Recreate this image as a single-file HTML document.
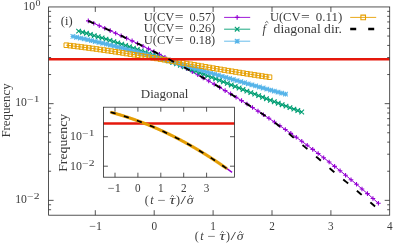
<!DOCTYPE html>
<html><head><meta charset="utf-8"><title>chart</title><style>html,body{margin:0;padding:0;background:#fff;overflow:hidden}body{width:393px;height:245px;position:relative;font-family:"Liberation Serif",serif}svg{display:block;position:absolute;left:0;top:0;will-change:transform}</style></head><body>
<svg width="393" height="245" viewBox="0 0 393 245" font-family="Liberation Serif, serif" font-size="12.0" fill="#3a3a3a">
<rect x="0" y="0" width="393" height="245" fill="#fff"/>
<polyline points="88.30,20.88 93.77,23.29 99.25,25.72 104.72,28.18 110.19,30.67 115.67,33.18 121.14,35.72 126.62,38.30 132.09,40.90 137.56,43.53 143.04,46.20 148.51,48.90 153.98,51.63 159.46,54.40 164.93,57.20 170.40,60.04 175.88,62.91 181.35,65.83 186.82,68.78 192.30,71.77 197.77,74.80 203.25,77.88 208.72,81.00 214.19,84.16 219.67,87.36 225.14,90.61 230.61,93.90 236.09,97.24 241.56,100.63 247.03,104.07 252.51,107.56 257.98,111.09 263.45,114.68 268.93,118.32 274.40,122.01 279.88,125.76 285.35,129.55 290.82,133.41 296.30,137.32 301.77,141.29 307.24,145.31 312.72,149.40 318.19,153.54 323.66,157.74 329.14,162.01 334.61,166.33 340.08,170.72 345.56,175.18 351.03,179.69 356.51,184.28 361.98,188.93 367.45,193.64 372.93,198.43 378.40,203.28" fill="none" stroke="#9400d3" stroke-width="1" />
<path d="M86.00,20.88H90.60M88.30,18.58V23.18M91.47,23.29H96.07M93.77,20.99V25.59M96.95,25.72H101.55M99.25,23.42V28.02M102.42,28.18H107.02M104.72,25.88V30.48M107.89,30.67H112.49M110.19,28.37V32.97M113.37,33.18H117.97M115.67,30.88V35.48M118.84,35.72H123.44M121.14,33.42V38.02M124.32,38.30H128.92M126.62,36.00V40.60M129.79,40.90H134.39M132.09,38.60V43.20M135.26,43.53H139.86M137.56,41.23V45.83M140.74,46.20H145.34M143.04,43.90V48.50M146.21,48.90H150.81M148.51,46.60V51.20M151.68,51.63H156.28M153.98,49.33V53.93M157.16,54.40H161.76M159.46,52.10V56.70M162.63,57.20H167.23M164.93,54.90V59.50M168.10,60.04H172.70M170.40,57.74V62.34M173.58,62.91H178.18M175.88,60.61V65.21M179.05,65.83H183.65M181.35,63.53V68.13M184.52,68.78H189.12M186.82,66.48V71.08M190.00,71.77H194.60M192.30,69.47V74.07M195.47,74.80H200.07M197.77,72.50V77.10M200.95,77.88H205.55M203.25,75.58V80.18M206.42,81.00H211.02M208.72,78.70V83.30M211.89,84.16H216.49M214.19,81.86V86.46M217.37,87.36H221.97M219.67,85.06V89.66M222.84,90.61H227.44M225.14,88.31V92.91M228.31,93.90H232.91M230.61,91.60V96.20M233.79,97.24H238.39M236.09,94.94V99.54M239.26,100.63H243.86M241.56,98.33V102.93M244.73,104.07H249.33M247.03,101.77V106.37M250.21,107.56H254.81M252.51,105.26V109.86M255.68,111.09H260.28M257.98,108.79V113.39M261.15,114.68H265.75M263.45,112.38V116.98M266.63,118.32H271.23M268.93,116.02V120.62M272.10,122.01H276.70M274.40,119.71V124.31M277.58,125.76H282.18M279.88,123.46V128.06M283.05,129.55H287.65M285.35,127.25V131.85M288.52,133.41H293.12M290.82,131.11V135.71M294.00,137.32H298.60M296.30,135.02V139.62M299.47,141.29H304.07M301.77,138.99V143.59M304.94,145.31H309.54M307.24,143.01V147.61M310.42,149.40H315.02M312.72,147.10V151.70M315.89,153.54H320.49M318.19,151.24V155.84M321.36,157.74H325.96M323.66,155.44V160.04M326.84,162.01H331.44M329.14,159.71V164.31M332.31,166.33H336.91M334.61,164.03V168.63M337.78,170.72H342.38M340.08,168.42V173.02M343.26,175.18H347.86M345.56,172.88V177.48M348.73,179.69H353.33M351.03,177.39V181.99M354.21,184.28H358.81M356.51,181.98V186.58M359.68,188.93H364.28M361.98,186.63V191.23M365.15,193.64H369.75M367.45,191.34V195.94M370.63,198.43H375.23M372.93,196.13V200.73M376.10,203.28H380.70M378.40,200.98V205.58" fill="none" stroke="#9400d3" stroke-width="1.1"/>
<polyline points="78.60,31.12 82.51,32.20 86.43,33.30 90.34,34.42 94.26,35.57 98.17,36.74 102.08,37.93 106.00,39.14 109.91,40.37 113.83,41.62 117.74,42.89 121.65,44.17 125.57,45.48 129.48,46.80 133.40,48.13 137.31,49.48 141.22,50.85 145.14,52.23 149.05,53.63 152.97,55.03 156.88,56.45 160.79,57.88 164.71,59.33 168.62,60.78 172.54,62.24 176.45,63.72 180.36,65.20 184.28,66.69 188.19,68.18 192.11,69.69 196.02,71.20 199.94,72.71 203.85,74.23 207.76,75.75 211.68,77.28 215.59,78.81 219.51,80.35 223.42,81.88 227.33,83.42 231.25,84.95 235.16,86.49 239.08,88.03 242.99,89.56 246.90,91.10 250.82,92.63 254.73,94.15 258.65,95.68 262.56,97.20 266.47,98.71 270.39,100.22 274.30,101.72 278.22,103.21 282.13,104.70 286.04,106.18 289.96,107.65 293.87,109.11 297.79,110.56 301.70,112.00" fill="none" stroke="#009e73" stroke-width="1" />
<path d="M76.30,28.82L80.90,33.42M76.30,33.42L80.90,28.82M80.21,29.90L84.81,34.50M80.21,34.50L84.81,29.90M84.13,31.00L88.73,35.60M84.13,35.60L88.73,31.00M88.04,32.12L92.64,36.72M88.04,36.72L92.64,32.12M91.96,33.27L96.56,37.87M91.96,37.87L96.56,33.27M95.87,34.44L100.47,39.04M95.87,39.04L100.47,34.44M99.78,35.63L104.38,40.23M99.78,40.23L104.38,35.63M103.70,36.84L108.30,41.44M103.70,41.44L108.30,36.84M107.61,38.07L112.21,42.67M107.61,42.67L112.21,38.07M111.53,39.32L116.13,43.92M111.53,43.92L116.13,39.32M115.44,40.59L120.04,45.19M115.44,45.19L120.04,40.59M119.35,41.87L123.95,46.47M119.35,46.47L123.95,41.87M123.27,43.18L127.87,47.78M123.27,47.78L127.87,43.18M127.18,44.50L131.78,49.10M127.18,49.10L131.78,44.50M131.10,45.83L135.70,50.43M131.10,50.43L135.70,45.83M135.01,47.18L139.61,51.78M135.01,51.78L139.61,47.18M138.92,48.55L143.52,53.15M138.92,53.15L143.52,48.55M142.84,49.93L147.44,54.53M142.84,54.53L147.44,49.93M146.75,51.33L151.35,55.93M146.75,55.93L151.35,51.33M150.67,52.73L155.27,57.33M150.67,57.33L155.27,52.73M154.58,54.15L159.18,58.75M154.58,58.75L159.18,54.15M158.49,55.58L163.09,60.18M158.49,60.18L163.09,55.58M162.41,57.03L167.01,61.63M162.41,61.63L167.01,57.03M166.32,58.48L170.92,63.08M166.32,63.08L170.92,58.48M170.24,59.94L174.84,64.54M170.24,64.54L174.84,59.94M174.15,61.42L178.75,66.02M174.15,66.02L178.75,61.42M178.06,62.90L182.66,67.50M178.06,67.50L182.66,62.90M181.98,64.39L186.58,68.99M181.98,68.99L186.58,64.39M185.89,65.88L190.49,70.48M185.89,70.48L190.49,65.88M189.81,67.39L194.41,71.99M189.81,71.99L194.41,67.39M193.72,68.90L198.32,73.50M193.72,73.50L198.32,68.90M197.64,70.41L202.24,75.01M197.64,75.01L202.24,70.41M201.55,71.93L206.15,76.53M201.55,76.53L206.15,71.93M205.46,73.45L210.06,78.05M205.46,78.05L210.06,73.45M209.38,74.98L213.98,79.58M209.38,79.58L213.98,74.98M213.29,76.51L217.89,81.11M213.29,81.11L217.89,76.51M217.21,78.05L221.81,82.65M217.21,82.65L221.81,78.05M221.12,79.58L225.72,84.18M221.12,84.18L225.72,79.58M225.03,81.12L229.63,85.72M225.03,85.72L229.63,81.12M228.95,82.65L233.55,87.25M228.95,87.25L233.55,82.65M232.86,84.19L237.46,88.79M232.86,88.79L237.46,84.19M236.78,85.73L241.38,90.33M236.78,90.33L241.38,85.73M240.69,87.26L245.29,91.86M240.69,91.86L245.29,87.26M244.60,88.80L249.20,93.40M244.60,93.40L249.20,88.80M248.52,90.33L253.12,94.93M248.52,94.93L253.12,90.33M252.43,91.85L257.03,96.45M252.43,96.45L257.03,91.85M256.35,93.38L260.95,97.98M256.35,97.98L260.95,93.38M260.26,94.90L264.86,99.50M260.26,99.50L264.86,94.90M264.17,96.41L268.77,101.01M264.17,101.01L268.77,96.41M268.09,97.92L272.69,102.52M268.09,102.52L272.69,97.92M272.00,99.42L276.60,104.02M272.00,104.02L276.60,99.42M275.92,100.91L280.52,105.51M275.92,105.51L280.52,100.91M279.83,102.40L284.43,107.00M279.83,107.00L284.43,102.40M283.74,103.88L288.34,108.48M283.74,108.48L288.34,103.88M287.66,105.35L292.26,109.95M287.66,109.95L292.26,105.35M291.57,106.81L296.17,111.41M291.57,111.41L296.17,106.81M295.49,108.26L300.09,112.86M295.49,112.86L300.09,108.26M299.40,109.70L304.00,114.30M299.40,114.30L304.00,109.70" fill="none" stroke="#009e73" stroke-width="1.1"/>
<polyline points="72.90,36.45 76.63,37.25 80.36,38.06 84.09,38.89 87.82,39.74 91.55,40.60 95.28,41.47 99.01,42.36 102.74,43.26 106.47,44.17 110.20,45.09 113.93,46.03 117.66,46.98 121.39,47.94 125.12,48.91 128.85,49.89 132.58,50.88 136.31,51.87 140.04,52.88 143.77,53.89 147.50,54.92 151.23,55.95 154.96,56.98 158.69,58.03 162.42,59.08 166.15,60.13 169.88,61.19 173.61,62.25 177.34,63.32 181.06,64.39 184.79,65.47 188.52,66.55 192.25,67.63 195.98,68.71 199.71,69.80 203.44,70.88 207.17,71.97 210.90,73.05 214.63,74.14 218.36,75.22 222.09,76.31 225.82,77.39 229.55,78.47 233.28,79.54 237.01,80.62 240.74,81.69 244.47,82.76 248.20,83.82 251.93,84.88 255.66,85.93 259.39,86.97 263.12,88.01 266.85,89.05 270.58,90.08 274.31,91.09 278.04,92.11 281.77,93.11 285.50,94.10" fill="none" stroke="#56b4e9" stroke-width="1" />
<path d="M70.60,34.15L75.20,38.75M70.60,38.75L75.20,34.15M70.60,36.45H75.20M72.90,34.15V38.75M74.33,34.95L78.93,39.55M74.33,39.55L78.93,34.95M74.33,37.25H78.93M76.63,34.95V39.55M78.06,35.76L82.66,40.36M78.06,40.36L82.66,35.76M78.06,38.06H82.66M80.36,35.76V40.36M81.79,36.59L86.39,41.19M81.79,41.19L86.39,36.59M81.79,38.89H86.39M84.09,36.59V41.19M85.52,37.44L90.12,42.04M85.52,42.04L90.12,37.44M85.52,39.74H90.12M87.82,37.44V42.04M89.25,38.30L93.85,42.90M89.25,42.90L93.85,38.30M89.25,40.60H93.85M91.55,38.30V42.90M92.98,39.17L97.58,43.77M92.98,43.77L97.58,39.17M92.98,41.47H97.58M95.28,39.17V43.77M96.71,40.06L101.31,44.66M96.71,44.66L101.31,40.06M96.71,42.36H101.31M99.01,40.06V44.66M100.44,40.96L105.04,45.56M100.44,45.56L105.04,40.96M100.44,43.26H105.04M102.74,40.96V45.56M104.17,41.87L108.77,46.47M104.17,46.47L108.77,41.87M104.17,44.17H108.77M106.47,41.87V46.47M107.90,42.79L112.50,47.39M107.90,47.39L112.50,42.79M107.90,45.09H112.50M110.20,42.79V47.39M111.63,43.73L116.23,48.33M111.63,48.33L116.23,43.73M111.63,46.03H116.23M113.93,43.73V48.33M115.36,44.68L119.96,49.28M115.36,49.28L119.96,44.68M115.36,46.98H119.96M117.66,44.68V49.28M119.09,45.64L123.69,50.24M119.09,50.24L123.69,45.64M119.09,47.94H123.69M121.39,45.64V50.24M122.82,46.61L127.42,51.21M122.82,51.21L127.42,46.61M122.82,48.91H127.42M125.12,46.61V51.21M126.55,47.59L131.15,52.19M126.55,52.19L131.15,47.59M126.55,49.89H131.15M128.85,47.59V52.19M130.28,48.58L134.88,53.18M130.28,53.18L134.88,48.58M130.28,50.88H134.88M132.58,48.58V53.18M134.01,49.57L138.61,54.17M134.01,54.17L138.61,49.57M134.01,51.87H138.61M136.31,49.57V54.17M137.74,50.58L142.34,55.18M137.74,55.18L142.34,50.58M137.74,52.88H142.34M140.04,50.58V55.18M141.47,51.59L146.07,56.19M141.47,56.19L146.07,51.59M141.47,53.89H146.07M143.77,51.59V56.19M145.20,52.62L149.80,57.22M145.20,57.22L149.80,52.62M145.20,54.92H149.80M147.50,52.62V57.22M148.93,53.65L153.53,58.25M148.93,58.25L153.53,53.65M148.93,55.95H153.53M151.23,53.65V58.25M152.66,54.68L157.26,59.28M152.66,59.28L157.26,54.68M152.66,56.98H157.26M154.96,54.68V59.28M156.39,55.73L160.99,60.33M156.39,60.33L160.99,55.73M156.39,58.03H160.99M158.69,55.73V60.33M160.12,56.78L164.72,61.38M160.12,61.38L164.72,56.78M160.12,59.08H164.72M162.42,56.78V61.38M163.85,57.83L168.45,62.43M163.85,62.43L168.45,57.83M163.85,60.13H168.45M166.15,57.83V62.43M167.58,58.89L172.18,63.49M167.58,63.49L172.18,58.89M167.58,61.19H172.18M169.88,58.89V63.49M171.31,59.95L175.91,64.55M171.31,64.55L175.91,59.95M171.31,62.25H175.91M173.61,59.95V64.55M175.04,61.02L179.64,65.62M175.04,65.62L179.64,61.02M175.04,63.32H179.64M177.34,61.02V65.62M178.76,62.09L183.36,66.69M178.76,66.69L183.36,62.09M178.76,64.39H183.36M181.06,62.09V66.69M182.49,63.17L187.09,67.77M182.49,67.77L187.09,63.17M182.49,65.47H187.09M184.79,63.17V67.77M186.22,64.25L190.82,68.85M186.22,68.85L190.82,64.25M186.22,66.55H190.82M188.52,64.25V68.85M189.95,65.33L194.55,69.93M189.95,69.93L194.55,65.33M189.95,67.63H194.55M192.25,65.33V69.93M193.68,66.41L198.28,71.01M193.68,71.01L198.28,66.41M193.68,68.71H198.28M195.98,66.41V71.01M197.41,67.50L202.01,72.10M197.41,72.10L202.01,67.50M197.41,69.80H202.01M199.71,67.50V72.10M201.14,68.58L205.74,73.18M201.14,73.18L205.74,68.58M201.14,70.88H205.74M203.44,68.58V73.18M204.87,69.67L209.47,74.27M204.87,74.27L209.47,69.67M204.87,71.97H209.47M207.17,69.67V74.27M208.60,70.75L213.20,75.35M208.60,75.35L213.20,70.75M208.60,73.05H213.20M210.90,70.75V75.35M212.33,71.84L216.93,76.44M212.33,76.44L216.93,71.84M212.33,74.14H216.93M214.63,71.84V76.44M216.06,72.92L220.66,77.52M216.06,77.52L220.66,72.92M216.06,75.22H220.66M218.36,72.92V77.52M219.79,74.01L224.39,78.61M219.79,78.61L224.39,74.01M219.79,76.31H224.39M222.09,74.01V78.61M223.52,75.09L228.12,79.69M223.52,79.69L228.12,75.09M223.52,77.39H228.12M225.82,75.09V79.69M227.25,76.17L231.85,80.77M227.25,80.77L231.85,76.17M227.25,78.47H231.85M229.55,76.17V80.77M230.98,77.24L235.58,81.84M230.98,81.84L235.58,77.24M230.98,79.54H235.58M233.28,77.24V81.84M234.71,78.32L239.31,82.92M234.71,82.92L239.31,78.32M234.71,80.62H239.31M237.01,78.32V82.92M238.44,79.39L243.04,83.99M238.44,83.99L243.04,79.39M238.44,81.69H243.04M240.74,79.39V83.99M242.17,80.46L246.77,85.06M242.17,85.06L246.77,80.46M242.17,82.76H246.77M244.47,80.46V85.06M245.90,81.52L250.50,86.12M245.90,86.12L250.50,81.52M245.90,83.82H250.50M248.20,81.52V86.12M249.63,82.58L254.23,87.18M249.63,87.18L254.23,82.58M249.63,84.88H254.23M251.93,82.58V87.18M253.36,83.63L257.96,88.23M253.36,88.23L257.96,83.63M253.36,85.93H257.96M255.66,83.63V88.23M257.09,84.67L261.69,89.27M257.09,89.27L261.69,84.67M257.09,86.97H261.69M259.39,84.67V89.27M260.82,85.71L265.42,90.31M260.82,90.31L265.42,85.71M260.82,88.01H265.42M263.12,85.71V90.31M264.55,86.75L269.15,91.35M264.55,91.35L269.15,86.75M264.55,89.05H269.15M266.85,86.75V91.35M268.28,87.78L272.88,92.38M268.28,92.38L272.88,87.78M268.28,90.08H272.88M270.58,87.78V92.38M272.01,88.79L276.61,93.39M272.01,93.39L276.61,88.79M272.01,91.09H276.61M274.31,88.79V93.39M275.74,89.81L280.34,94.41M275.74,94.41L280.34,89.81M275.74,92.11H280.34M278.04,89.81V94.41M279.47,90.81L284.07,95.41M279.47,95.41L284.07,90.81M279.47,93.11H284.07M281.77,90.81V95.41M283.20,91.80L287.80,96.40M283.20,96.40L287.80,91.80M283.20,94.10H287.80M285.50,91.80V96.40" fill="none" stroke="#56b4e9" stroke-width="1.05"/>
<polyline points="66.30,45.22 70.06,45.65 73.83,46.09 77.59,46.55 81.35,47.01 85.11,47.50 88.88,47.99 92.64,48.50 96.40,49.01 100.17,49.54 103.93,50.08 107.69,50.63 111.46,51.18 115.22,51.75 118.98,52.32 122.74,52.91 126.51,53.50 130.27,54.09 134.03,54.70 137.80,55.31 141.56,55.93 145.32,56.55 149.09,57.17 152.85,57.81 156.61,58.44 160.37,59.08 164.14,59.72 167.90,60.37 171.66,61.01 175.43,61.66 179.19,62.31 182.95,62.97 186.71,63.62 190.48,64.27 194.24,64.92 198.00,65.57 201.77,66.22 205.53,66.87 209.29,67.52 213.06,68.16 216.82,68.80 220.58,69.44 224.34,70.07 228.11,70.70 231.87,71.33 235.63,71.95 239.40,72.56 243.16,73.17 246.92,73.77 250.69,74.36 254.45,74.95 258.21,75.53 261.97,76.10 265.74,76.66 269.50,77.21" fill="none" stroke="#e69f00" stroke-width="1" />
<path d="M64.00,42.92H68.60V47.52H64.00ZM67.76,43.35H72.36V47.95H67.76ZM71.53,43.79H76.13V48.39H71.53ZM75.29,44.25H79.89V48.85H75.29ZM79.05,44.71H83.65V49.31H79.05ZM82.81,45.20H87.41V49.80H82.81ZM86.58,45.69H91.18V50.29H86.58ZM90.34,46.20H94.94V50.80H90.34ZM94.10,46.71H98.70V51.31H94.10ZM97.87,47.24H102.47V51.84H97.87ZM101.63,47.78H106.23V52.38H101.63ZM105.39,48.33H109.99V52.93H105.39ZM109.16,48.88H113.76V53.48H109.16ZM112.92,49.45H117.52V54.05H112.92ZM116.68,50.02H121.28V54.62H116.68ZM120.44,50.61H125.04V55.21H120.44ZM124.21,51.20H128.81V55.80H124.21ZM127.97,51.79H132.57V56.39H127.97ZM131.73,52.40H136.33V57.00H131.73ZM135.50,53.01H140.10V57.61H135.50ZM139.26,53.63H143.86V58.23H139.26ZM143.02,54.25H147.62V58.85H143.02ZM146.79,54.87H151.39V59.47H146.79ZM150.55,55.51H155.15V60.11H150.55ZM154.31,56.14H158.91V60.74H154.31ZM158.07,56.78H162.67V61.38H158.07ZM161.84,57.42H166.44V62.02H161.84ZM165.60,58.07H170.20V62.67H165.60ZM169.36,58.71H173.96V63.31H169.36ZM173.13,59.36H177.73V63.96H173.13ZM176.89,60.01H181.49V64.61H176.89ZM180.65,60.67H185.25V65.27H180.65ZM184.41,61.32H189.01V65.92H184.41ZM188.18,61.97H192.78V66.57H188.18ZM191.94,62.62H196.54V67.22H191.94ZM195.70,63.27H200.30V67.87H195.70ZM199.47,63.92H204.07V68.52H199.47ZM203.23,64.57H207.83V69.17H203.23ZM206.99,65.22H211.59V69.82H206.99ZM210.76,65.86H215.36V70.46H210.76ZM214.52,66.50H219.12V71.10H214.52ZM218.28,67.14H222.88V71.74H218.28ZM222.04,67.77H226.64V72.37H222.04ZM225.81,68.40H230.41V73.00H225.81ZM229.57,69.03H234.17V73.63H229.57ZM233.33,69.65H237.93V74.25H233.33ZM237.10,70.26H241.70V74.86H237.10ZM240.86,70.87H245.46V75.47H240.86ZM244.62,71.47H249.22V76.07H244.62ZM248.39,72.06H252.99V76.66H248.39ZM252.15,72.65H256.75V77.25H252.15ZM255.91,73.23H260.51V77.83H255.91ZM259.67,73.80H264.27V78.40H259.67ZM263.44,74.36H268.04V78.96H263.44ZM267.20,74.91H271.80V79.51H267.20Z" fill="none" stroke="#e69f00" stroke-width="1"/>
<line x1="48.6" x2="389.7" y1="59.25" y2="59.25" stroke="#e5180c" stroke-width="2.6"/>
<polyline points="88.30,20.88 89.75,21.52 91.20,22.15 92.65,22.79 94.09,23.43 95.54,24.07 96.99,24.72 98.44,25.36 99.89,26.01 101.34,26.66 102.79,27.31 104.24,27.96 105.68,28.62 107.13,29.27 108.58,29.93 110.03,30.59 111.48,31.26 112.93,31.92 114.38,32.59 115.83,33.25 117.27,33.93 118.72,34.60 120.17,35.27 121.62,35.95 123.07,36.63 124.52,37.31 125.97,37.99 127.42,38.68 128.86,39.36 130.31,40.05 131.76,40.74 133.21,41.44 134.66,42.13 136.11,42.83 137.56,43.53 139.01,44.23 140.45,44.94 141.90,45.64 143.35,46.35 144.80,47.06 146.25,47.78 147.70,48.49 149.15,49.21 150.60,49.93 152.04,50.66 153.49,51.38 154.94,52.11 156.39,52.84 157.84,53.57 159.29,54.31 160.74,55.05 162.19,55.79 163.63,56.53 165.08,57.28 166.53,58.02 167.98,58.78 169.43,59.53 170.88,60.28 172.33,61.04 173.78,61.80 175.22,62.57 176.67,63.33 178.12,64.10 179.57,64.87 181.02,65.65 182.47,66.43 183.92,67.21 185.37,67.99 186.81,68.77 188.26,69.56 189.71,70.35 191.16,71.15 192.61,71.94 194.06,72.74 195.51,73.54 196.96,74.35 198.40,75.16 199.85,75.97 201.30,76.78 202.75,77.60 204.20,78.42 205.65,79.24 207.10,80.07 208.55,80.90 209.99,81.73 211.44,82.56 212.89,83.40 214.34,84.24 215.79,85.09 217.24,85.93 218.69,86.78 220.14,87.64 221.58,88.49 223.03,89.35 224.48,90.22 225.93,91.08 227.38,91.95 228.83,92.82 230.28,93.70 231.73,94.58 233.17,95.46 234.62,96.35 236.07,97.24 237.52,98.13 238.97,99.02 240.42,99.92 241.87,100.82 243.32,101.73 244.76,102.64 246.21,103.55 247.66,104.47 249.11,105.39 250.56,106.31 252.01,107.24 253.46,108.17 254.91,109.10 256.35,110.04 257.80,110.98 259.25,111.92 260.70,112.87 262.15,113.82 263.60,114.78 265.05,115.76 266.50,116.75 267.94,117.76 269.39,118.78 270.84,119.81 272.29,120.86 273.74,121.92 275.19,122.99 276.64,124.08 278.09,125.18 279.53,126.28 280.98,127.40 282.43,128.53 283.88,129.67 285.33,130.81 286.78,131.97 288.23,133.14 289.68,134.31 291.12,135.49 292.57,136.68 294.02,137.87 295.47,139.07 296.92,140.28 298.37,141.49 299.82,142.71 301.27,143.93 302.71,145.16 304.16,146.39 305.61,147.62 307.06,148.86 308.51,150.10 309.96,151.34 311.41,152.59 312.86,153.83 314.30,155.08 315.75,156.32 317.20,157.57 318.65,158.81 320.10,160.06 321.55,161.30 323.00,162.54 324.45,163.78 325.89,165.02 327.34,166.25 328.79,167.48 330.24,168.71 331.69,169.93 333.14,171.15 334.59,172.36 336.04,173.57 337.48,174.77 338.93,175.97 340.38,177.15 341.83,178.34 343.28,179.51 344.73,180.70 346.18,181.88 347.63,183.07 349.07,184.27 350.52,185.47 351.97,186.68 353.42,187.89 354.87,189.10 356.32,190.32 357.77,191.54 359.22,192.77 360.66,194.00 362.11,195.24 363.56,196.48 365.01,197.73 366.46,198.98 367.91,200.24 369.36,201.50 370.81,202.77 372.25,204.04 373.70,205.31 375.15,206.59 376.60,207.88" fill="none" stroke="#000" stroke-width="1.9" stroke-dasharray="6.3 11.45"/>
<rect x="48.6" y="6.95" width="341.09999999999997" height="208.25" fill="none" stroke="#2a2a2a" stroke-width="0.8"/>
<path d="M95.30,215.2v-5M95.30,6.95v5M154.20,215.2v-5M154.20,6.95v5M213.10,215.2v-5M213.10,6.95v5M272.00,215.2v-5M272.00,6.95v5M330.90,215.2v-5M330.90,6.95v5M48.6,103.65h5M389.7,103.65h-5M48.6,200.35h5M389.7,200.35h-5" fill="none" stroke="#2a2a2a" stroke-width="0.8"/>
<path d="M48.6,74.54h2.5M389.7,74.54h-2.5M48.6,57.51h2.5M389.7,57.51h-2.5M48.6,45.43h2.5M389.7,45.43h-2.5M48.6,36.06h2.5M389.7,36.06h-2.5M48.6,28.40h2.5M389.7,28.40h-2.5M48.6,21.93h2.5M389.7,21.93h-2.5M48.6,16.32h2.5M389.7,16.32h-2.5M48.6,11.37h2.5M389.7,11.37h-2.5M48.6,171.24h2.5M389.7,171.24h-2.5M48.6,154.21h2.5M389.7,154.21h-2.5M48.6,142.13h2.5M389.7,142.13h-2.5M48.6,132.76h2.5M389.7,132.76h-2.5M48.6,125.10h2.5M389.7,125.10h-2.5M48.6,118.63h2.5M389.7,118.63h-2.5M48.6,113.02h2.5M389.7,113.02h-2.5M48.6,108.07h2.5M389.7,108.07h-2.5M48.6,209.72h2.5M389.7,209.72h-2.5M48.6,204.77h2.5M389.7,204.77h-2.5" fill="none" stroke="#2a2a2a" stroke-width="0.8"/>
<text x="23.3" y="10.2" text-anchor="start" textLength="11.7" lengthAdjust="spacingAndGlyphs" >10</text>
<text x="35.4" y="5.799999999999999" text-anchor="start" textLength="5.0" lengthAdjust="spacingAndGlyphs" font-size="8.4">0</text>
<text x="15.2" y="106.3" text-anchor="start" textLength="11.7" lengthAdjust="spacingAndGlyphs" >10</text>
<text x="27.299999999999997" y="101.89999999999999" text-anchor="start" textLength="12.4" lengthAdjust="spacingAndGlyphs" font-size="8.4">−1</text>
<text x="15.2" y="203.3" text-anchor="start" textLength="11.7" lengthAdjust="spacingAndGlyphs" >10</text>
<text x="27.299999999999997" y="198.9" text-anchor="start" textLength="12.4" lengthAdjust="spacingAndGlyphs" font-size="8.4">−2</text>
<text x="154.20" y="229.6" text-anchor="middle" textLength="5.6" lengthAdjust="spacingAndGlyphs" >0</text>
<text x="213.10" y="229.6" text-anchor="middle" textLength="5.6" lengthAdjust="spacingAndGlyphs" >1</text>
<text x="272.00" y="229.6" text-anchor="middle" textLength="5.6" lengthAdjust="spacingAndGlyphs" >2</text>
<text x="330.90" y="229.6" text-anchor="middle" textLength="5.6" lengthAdjust="spacingAndGlyphs" >3</text>
<text x="389.80" y="229.6" text-anchor="middle" textLength="5.6" lengthAdjust="spacingAndGlyphs" >4</text>
<text x="89.2" y="229.6" text-anchor="start" textLength="12.8" lengthAdjust="spacingAndGlyphs" >−1</text>
<text x="194.8" y="240.0" text-anchor="start" >(</text>
<text x="200.20000000000002" y="240.0" text-anchor="start" font-style="italic">t</text>
<text x="207.60000000000002" y="240.0" text-anchor="start" textLength="8.2" lengthAdjust="spacingAndGlyphs" >−</text>
<text x="219.20000000000002" y="240.0" text-anchor="start" textLength="6.0" lengthAdjust="spacingAndGlyphs" font-style="italic">τ</text>
<path d="M220.90,232.80L222.40,231.40L223.90,232.80" fill="none" stroke="#3a3a3a" stroke-width="0.8"/>
<text x="226.0" y="240.0" text-anchor="start" >)</text>
<text x="230.4" y="240.0" text-anchor="start" textLength="5.4" lengthAdjust="spacingAndGlyphs" >/</text>
<text x="236.8" y="240.0" text-anchor="start" textLength="6.8" lengthAdjust="spacingAndGlyphs" font-style="italic">σ</text>
<path d="M238.90,232.80L240.40,231.40L241.90,232.80" fill="none" stroke="#3a3a3a" stroke-width="0.8"/>
<text transform="translate(9.8,110.5) rotate(-90)" text-anchor="middle" textLength="54.2" lengthAdjust="spacingAndGlyphs">Frequency</text>
<text x="60.8" y="25.0" text-anchor="start" textLength="11.8" lengthAdjust="spacingAndGlyphs" >(i)</text>
<text x="143.7" y="20.7" text-anchor="start" textLength="30.6" lengthAdjust="spacingAndGlyphs" >U(CV</text>
<text x="174.8" y="20.7" text-anchor="start" textLength="8.8" lengthAdjust="spacingAndGlyphs" >=</text>
<text x="189.6" y="20.7" text-anchor="start" textLength="25.6" lengthAdjust="spacingAndGlyphs" >0.57)</text>
<line x1="224.1" x2="250.2" y1="17.4" y2="17.4" stroke="#9400d3" stroke-width="0.9"/>
<path d="M234.85,17.40H239.45M237.15,15.10V19.70" fill="none" stroke="#9400d3" stroke-width="1.1"/>
<text x="143.7" y="32.4" text-anchor="start" textLength="30.6" lengthAdjust="spacingAndGlyphs" >U(CV</text>
<text x="174.8" y="32.4" text-anchor="start" textLength="8.8" lengthAdjust="spacingAndGlyphs" >=</text>
<text x="189.6" y="32.4" text-anchor="start" textLength="25.6" lengthAdjust="spacingAndGlyphs" >0.26)</text>
<line x1="224.1" x2="250.2" y1="29.2" y2="29.2" stroke="#009e73" stroke-width="0.9"/>
<path d="M234.85,26.90L239.45,31.50M234.85,31.50L239.45,26.90" fill="none" stroke="#009e73" stroke-width="1.1"/>
<text x="143.7" y="43.9" text-anchor="start" textLength="30.6" lengthAdjust="spacingAndGlyphs" >U(CV</text>
<text x="174.8" y="43.9" text-anchor="start" textLength="8.8" lengthAdjust="spacingAndGlyphs" >=</text>
<text x="189.6" y="43.9" text-anchor="start" textLength="25.6" lengthAdjust="spacingAndGlyphs" >0.18)</text>
<line x1="224.1" x2="250.2" y1="41.2" y2="41.2" stroke="#56b4e9" stroke-width="0.9"/>
<path d="M234.85,38.90L239.45,43.50M234.85,43.50L239.45,38.90M234.85,41.20H239.45M237.15,38.90V43.50" fill="none" stroke="#56b4e9" stroke-width="1.1"/>
<text x="269.9" y="20.6" text-anchor="start" textLength="30.6" lengthAdjust="spacingAndGlyphs" >U(CV</text>
<text x="301.0" y="20.6" text-anchor="start" textLength="8.8" lengthAdjust="spacingAndGlyphs" >=</text>
<text x="315.8" y="20.6" text-anchor="start" textLength="26.4" lengthAdjust="spacingAndGlyphs" >0.11)</text>
<line x1="350.2" x2="376.2" y1="17.4" y2="17.4" stroke="#e69f00" stroke-width="0.9"/>
<path d="M360.90,15.10H365.50V19.70H360.90Z" fill="none" stroke="#e69f00" stroke-width="1.1"/>
<text x="262.4" y="33.0" text-anchor="start" font-style="italic">f</text>
<path d="M265.20,22.90L266.80,21.40L268.40,22.90" fill="none" stroke="#3a3a3a" stroke-width="0.8"/>
<text x="273.6" y="32.6" text-anchor="start" textLength="68.4" lengthAdjust="spacingAndGlyphs" >diagonal dir.</text>
<path d="M350.2,29.0h6M368.2,29.0h6" stroke="#000" stroke-width="2.3" fill="none"/>
<rect x="103.4" y="107.2" width="131.1" height="69.99999999999999" fill="#fff" stroke="none"/>
<polyline points="111.00,112.30 114.11,113.15 117.21,114.04 120.32,114.96 123.42,115.92 126.53,116.91 129.63,117.95 132.74,119.01 135.84,120.12 138.95,121.26 142.05,122.43 145.16,123.65 148.26,124.90 151.37,126.18 154.47,127.50 157.58,128.86 160.68,130.26 163.79,131.69 166.89,133.15 170.00,134.66 173.10,136.20 176.21,137.78 179.31,139.39 182.42,141.04 185.52,142.72 188.63,144.44 191.73,146.20 194.84,148.00 197.94,149.83 201.05,151.70 204.15,153.60 207.26,155.54 210.36,157.52 213.47,159.53 216.57,161.58 219.68,163.66 222.78,165.79 225.89,167.94 228.99,170.14 232.10,172.37" fill="none" stroke="#9400d3" stroke-width="1.4" />
<line x1="103.4" x2="234.5" y1="123.4" y2="123.4" stroke="#e5180c" stroke-width="2.5"/>
<polyline points="111.40,112.41 112.56,112.73 113.72,113.05 114.88,113.37 116.04,113.70 117.20,114.04 118.36,114.38 119.52,114.72 120.68,115.07 121.84,115.43 123.00,115.79 124.16,116.15 125.32,116.52 126.47,116.90 127.63,117.28 128.79,117.66 129.95,118.05 131.11,118.45 132.27,118.85 133.43,119.26 134.59,119.67 135.75,120.08 136.91,120.51 138.07,120.93 139.23,121.36 140.39,121.80 141.55,122.24 142.71,122.69 143.87,123.14 145.03,123.60 146.19,124.06 147.35,124.52 148.51,125.00 149.67,125.47 150.83,125.95 151.99,126.44 153.15,126.93 154.31,127.43 155.46,127.93 156.62,128.44 157.78,128.95 158.94,129.47 160.10,129.99 161.26,130.52 162.42,131.05 163.58,131.59 164.74,132.13 165.90,132.68 167.06,133.24 168.22,133.79 169.38,134.36 170.54,134.92 171.70,135.50 172.86,136.08 174.02,136.66 175.18,137.25 176.34,137.84 177.50,138.44 178.66,139.04 179.82,139.65 180.98,140.27 182.14,140.89 183.29,141.51 184.45,142.14 185.61,142.77 186.77,143.41 187.93,144.06 189.09,144.71 190.25,145.36 191.41,146.02 192.57,146.68 193.73,147.35 194.89,148.03 196.05,148.71 197.21,149.39 198.37,150.08 199.53,150.78 200.69,151.48 201.85,152.18 203.01,152.89 204.17,153.61 205.33,154.33 206.49,155.05 207.65,155.78 208.81,156.52 209.97,157.26 211.13,158.01 212.28,158.76 213.44,159.51 214.60,160.27 215.76,161.04 216.92,161.81 218.08,162.59 219.24,163.37 220.40,164.15 221.56,164.95 222.72,165.74 223.88,166.54 225.04,167.35 226.20,168.16" fill="none" stroke="#e69f00" stroke-width="1.6" />
<path d="M110.40,111.41H112.40V113.41H110.40ZM111.56,111.73H113.56V113.73H111.56ZM112.72,112.05H114.72V114.05H112.72ZM113.88,112.37H115.88V114.37H113.88ZM115.04,112.70H117.04V114.70H115.04ZM116.20,113.04H118.20V115.04H116.20ZM117.36,113.38H119.36V115.38H117.36ZM118.52,113.72H120.52V115.72H118.52ZM119.68,114.07H121.68V116.07H119.68ZM120.84,114.43H122.84V116.43H120.84ZM122.00,114.79H124.00V116.79H122.00ZM123.16,115.15H125.16V117.15H123.16ZM124.32,115.52H126.32V117.52H124.32ZM125.47,115.90H127.47V117.90H125.47ZM126.63,116.28H128.63V118.28H126.63ZM127.79,116.66H129.79V118.66H127.79ZM128.95,117.05H130.95V119.05H128.95ZM130.11,117.45H132.11V119.45H130.11ZM131.27,117.85H133.27V119.85H131.27ZM132.43,118.26H134.43V120.26H132.43ZM133.59,118.67H135.59V120.67H133.59ZM134.75,119.08H136.75V121.08H134.75ZM135.91,119.51H137.91V121.51H135.91ZM137.07,119.93H139.07V121.93H137.07ZM138.23,120.36H140.23V122.36H138.23ZM139.39,120.80H141.39V122.80H139.39ZM140.55,121.24H142.55V123.24H140.55ZM141.71,121.69H143.71V123.69H141.71ZM142.87,122.14H144.87V124.14H142.87ZM144.03,122.60H146.03V124.60H144.03ZM145.19,123.06H147.19V125.06H145.19ZM146.35,123.52H148.35V125.52H146.35ZM147.51,124.00H149.51V126.00H147.51ZM148.67,124.47H150.67V126.47H148.67ZM149.83,124.95H151.83V126.95H149.83ZM150.99,125.44H152.99V127.44H150.99ZM152.15,125.93H154.15V127.93H152.15ZM153.31,126.43H155.31V128.43H153.31ZM154.46,126.93H156.46V128.93H154.46ZM155.62,127.44H157.62V129.44H155.62ZM156.78,127.95H158.78V129.95H156.78ZM157.94,128.47H159.94V130.47H157.94ZM159.10,128.99H161.10V130.99H159.10ZM160.26,129.52H162.26V131.52H160.26ZM161.42,130.05H163.42V132.05H161.42ZM162.58,130.59H164.58V132.59H162.58ZM163.74,131.13H165.74V133.13H163.74ZM164.90,131.68H166.90V133.68H164.90ZM166.06,132.24H168.06V134.24H166.06ZM167.22,132.79H169.22V134.79H167.22ZM168.38,133.36H170.38V135.36H168.38ZM169.54,133.92H171.54V135.92H169.54ZM170.70,134.50H172.70V136.50H170.70ZM171.86,135.08H173.86V137.08H171.86ZM173.02,135.66H175.02V137.66H173.02ZM174.18,136.25H176.18V138.25H174.18ZM175.34,136.84H177.34V138.84H175.34ZM176.50,137.44H178.50V139.44H176.50ZM177.66,138.04H179.66V140.04H177.66ZM178.82,138.65H180.82V140.65H178.82ZM179.98,139.27H181.98V141.27H179.98ZM181.14,139.89H183.14V141.89H181.14ZM182.29,140.51H184.29V142.51H182.29ZM183.45,141.14H185.45V143.14H183.45ZM184.61,141.77H186.61V143.77H184.61ZM185.77,142.41H187.77V144.41H185.77ZM186.93,143.06H188.93V145.06H186.93ZM188.09,143.71H190.09V145.71H188.09ZM189.25,144.36H191.25V146.36H189.25ZM190.41,145.02H192.41V147.02H190.41ZM191.57,145.68H193.57V147.68H191.57ZM192.73,146.35H194.73V148.35H192.73ZM193.89,147.03H195.89V149.03H193.89ZM195.05,147.71H197.05V149.71H195.05ZM196.21,148.39H198.21V150.39H196.21ZM197.37,149.08H199.37V151.08H197.37ZM198.53,149.78H200.53V151.78H198.53ZM199.69,150.48H201.69V152.48H199.69ZM200.85,151.18H202.85V153.18H200.85ZM202.01,151.89H204.01V153.89H202.01ZM203.17,152.61H205.17V154.61H203.17ZM204.33,153.33H206.33V155.33H204.33ZM205.49,154.05H207.49V156.05H205.49ZM206.65,154.78H208.65V156.78H206.65ZM207.81,155.52H209.81V157.52H207.81ZM208.97,156.26H210.97V158.26H208.97ZM210.13,157.01H212.13V159.01H210.13ZM211.28,157.76H213.28V159.76H211.28ZM212.44,158.51H214.44V160.51H212.44ZM213.60,159.27H215.60V161.27H213.60ZM214.76,160.04H216.76V162.04H214.76ZM215.92,160.81H217.92V162.81H215.92ZM217.08,161.59H219.08V163.59H217.08ZM218.24,162.37H220.24V164.37H218.24ZM219.40,163.15H221.40V165.15H219.40ZM220.56,163.95H222.56V165.95H220.56ZM221.72,164.74H223.72V166.74H221.72ZM222.88,165.54H224.88V167.54H222.88ZM224.04,166.35H226.04V168.35H224.04ZM225.20,167.16H227.20V169.16H225.20Z" fill="none" stroke="#e69f00" stroke-width="0.8"/>
<polyline points="110.60,112.20 111.78,112.51 112.95,112.83 114.13,113.16 115.30,113.49 116.48,113.83 117.65,114.17 118.83,114.52 120.01,114.87 121.18,115.22 122.36,115.59 123.53,115.95 124.71,116.33 125.88,116.71 127.06,117.09 128.24,117.48 129.41,117.87 130.59,118.27 131.76,118.67 132.94,119.08 134.12,119.50 135.29,119.92 136.47,120.34 137.64,120.77 138.82,121.21 139.99,121.65 141.17,122.10 142.35,122.55 143.52,123.00 144.70,123.46 145.87,123.93 147.05,124.40 148.22,124.88 149.40,125.36 150.58,125.85 151.75,126.34 152.93,126.84 154.10,127.34 155.28,127.85 156.45,128.37 157.63,128.89 158.81,129.41 159.98,129.94 161.16,130.47 162.33,131.01 163.51,131.56 164.68,132.11 165.86,132.66 167.04,133.22 168.21,133.79 169.39,134.36 170.56,134.94 171.74,135.52 172.92,136.10 174.09,136.70 175.27,137.29 176.44,137.90 177.62,138.50 178.79,139.12 179.97,139.73 181.15,140.36 182.32,140.99 183.50,141.62 184.67,142.26 185.85,142.90 187.02,143.55 188.20,144.21 189.38,144.86 190.55,145.53 191.73,146.20 192.90,146.88 194.08,147.56 195.25,148.24 196.43,148.93 197.61,149.63 198.78,150.33 199.96,151.04 201.13,151.75 202.31,152.46 203.48,153.19 204.66,153.91 205.84,154.65 207.01,155.38 208.19,156.13 209.36,156.88 210.54,157.63 211.72,158.39 212.89,159.15 214.07,159.92 215.24,160.70 216.42,161.47 217.59,162.26 218.77,163.05 219.95,163.84 221.12,164.65 222.30,165.45 223.47,166.26 224.65,167.08 225.82,167.90 227.00,168.73" fill="none" stroke="#000" stroke-width="1.7" stroke-dasharray="5.2 8.6"/>
<rect x="103.4" y="107.2" width="131.1" height="69.99999999999999" fill="none" stroke="#2a2a2a" stroke-width="0.8"/>
<path d="M115.00,177.2v-4.5M115.00,107.2v4.5M137.90,177.2v-4.5M137.90,107.2v4.5M160.80,177.2v-4.5M160.80,107.2v4.5M183.70,177.2v-4.5M183.70,107.2v4.5M206.60,177.2v-4.5M206.60,107.2v4.5M103.4,136.70h4.5M234.5,136.70h-4.5M103.4,166.20h4.5M234.5,166.20h-4.5" fill="none" stroke="#2a2a2a" stroke-width="0.8"/>
<text x="70.0" y="140.3" text-anchor="start" textLength="11.9" lengthAdjust="spacingAndGlyphs" >10</text>
<text x="82.30000000000001" y="135.9" text-anchor="start" textLength="12.4" lengthAdjust="spacingAndGlyphs" font-size="8.4">−1</text>
<text x="70.0" y="169.9" text-anchor="start" textLength="11.9" lengthAdjust="spacingAndGlyphs" >10</text>
<text x="82.30000000000001" y="165.5" text-anchor="start" textLength="12.4" lengthAdjust="spacingAndGlyphs" font-size="8.4">−2</text>
<text x="137.90" y="192.3" text-anchor="middle" textLength="5.6" lengthAdjust="spacingAndGlyphs" >0</text>
<text x="160.80" y="192.3" text-anchor="middle" textLength="5.6" lengthAdjust="spacingAndGlyphs" >1</text>
<text x="183.70" y="192.3" text-anchor="middle" textLength="5.6" lengthAdjust="spacingAndGlyphs" >2</text>
<text x="206.60" y="192.3" text-anchor="middle" textLength="5.6" lengthAdjust="spacingAndGlyphs" >3</text>
<text x="107.8" y="192.3" text-anchor="start" textLength="13.0" lengthAdjust="spacingAndGlyphs" >−1</text>
<text x="144.8" y="204.0" text-anchor="start" >(</text>
<text x="150.20000000000002" y="204.0" text-anchor="start" font-style="italic">t</text>
<text x="157.60000000000002" y="204.0" text-anchor="start" textLength="8.2" lengthAdjust="spacingAndGlyphs" >−</text>
<text x="169.20000000000002" y="204.0" text-anchor="start" textLength="6.0" lengthAdjust="spacingAndGlyphs" font-style="italic">τ</text>
<path d="M170.90,196.80L172.40,195.40L173.90,196.80" fill="none" stroke="#3a3a3a" stroke-width="0.8"/>
<text x="176.0" y="204.0" text-anchor="start" >)</text>
<text x="180.4" y="204.0" text-anchor="start" textLength="5.4" lengthAdjust="spacingAndGlyphs" >/</text>
<text x="186.8" y="204.0" text-anchor="start" textLength="6.8" lengthAdjust="spacingAndGlyphs" font-style="italic">σ</text>
<path d="M188.90,196.80L190.40,195.40L191.90,196.80" fill="none" stroke="#3a3a3a" stroke-width="0.8"/>
<text transform="translate(67.2,142.8) rotate(-90)" text-anchor="middle" textLength="58.0" lengthAdjust="spacingAndGlyphs">Frequency</text>
<text x="140.8" y="97.9" text-anchor="start" textLength="47.6" lengthAdjust="spacingAndGlyphs" >Diagonal</text>
</svg>
</body></html>
